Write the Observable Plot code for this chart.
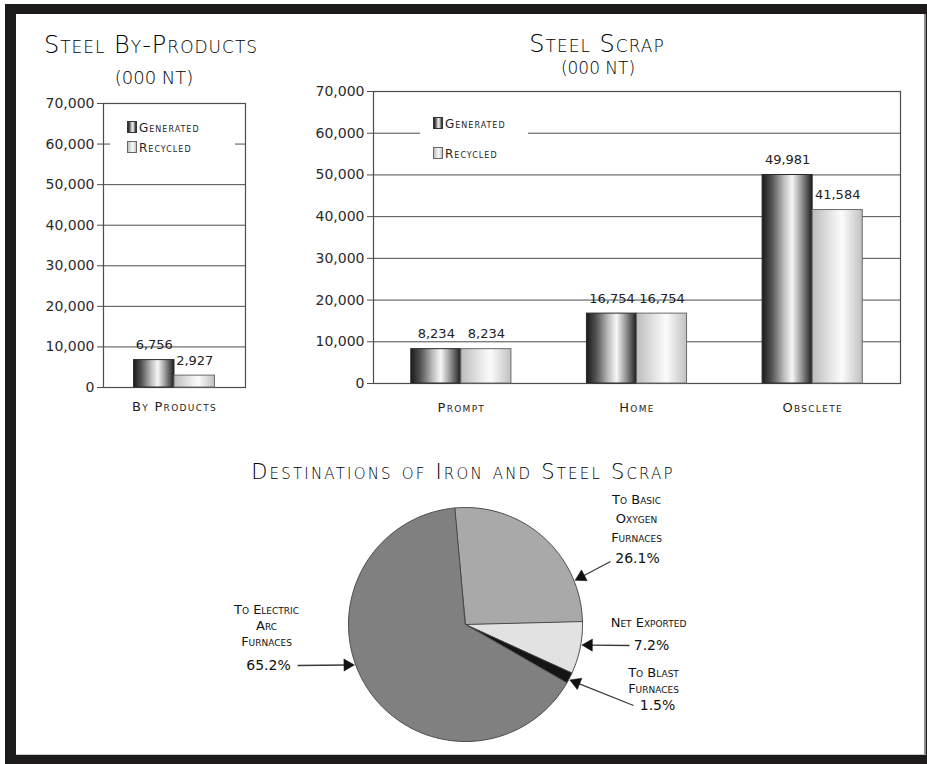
<!DOCTYPE html>
<html>
<head>
<meta charset="utf-8">
<script src="https://cdn.jsdelivr.net/npm/d3@7"></script>
<script src="https://cdn.jsdelivr.net/npm/@observablehq/plot@0.6"></script>
<style>
  html, body { margin: 0; padding: 0; background: #fff; }
  body { width: 927px; height: 764px; position: relative; overflow: hidden; font-family: "DejaVu Sans", sans-serif; color: #2b2b2b; }
  #frame { position: absolute; left: 5px; top: 4px; width: 922px; height: 760px; background: #1c1a1a; }
  #paper { position: absolute; left: 16px; top: 14px; width: 908px; height: 740px; background: #fff; border-right: 2px solid #8a8a8a; border-bottom: 1px solid #c9c9c9; }
  .abs { position: absolute; }
  .title { position: absolute; text-align: center; font-variant: small-caps; white-space: nowrap; color: #000; font-weight: 300; }
  .legend { position: absolute; background: #fff; }
  .legend .item { position: absolute; font-size: 12px; font-variant: small-caps; letter-spacing: 1px; white-space: nowrap; line-height: 12px; color: #1e1e1e; }
  .legend .sw { display: inline-block; width: 8px; height: 10px; border: 1px solid #333; vertical-align: -1px; margin-right: 2px; }
  .sw.gen { background: linear-gradient(90deg, #1e1e1e 0%, #5a5a5a 20%, #c4c4c4 45%, #f6f6f6 60%, #9a9a9a 78%, #1e1e1e 100%); }
  .sw.rec { background: linear-gradient(90deg, #bdbdbd 0%, #eeeeee 45%, #fbfbfb 60%, #c2c2c2 100%); border-color: #666; }
  g[aria-label="x-axis tick label"] text { letter-spacing: 1.3px; }
  g[aria-label="pie-name"] text { letter-spacing: 0.9px; }
</style>
</head>
<body>
<div id="frame"></div>
<div id="paper"></div>

<svg width="0" height="0" style="position:absolute">
  <defs>
    <linearGradient id="genGrad" x1="0" x2="1" y1="0" y2="0">
      <stop offset="0" stop-color="#1a1a1a"/>
      <stop offset="0.2" stop-color="#555"/>
      <stop offset="0.45" stop-color="#c2c2c2"/>
      <stop offset="0.6" stop-color="#f7f7f7"/>
      <stop offset="0.78" stop-color="#999"/>
      <stop offset="1" stop-color="#1e1e1e"/>
    </linearGradient>
    <linearGradient id="recGrad" x1="0" x2="1" y1="0" y2="0">
      <stop offset="0" stop-color="#bcbcbc"/>
      <stop offset="0.45" stop-color="#eeeeee"/>
      <stop offset="0.6" stop-color="#fbfbfb"/>
      <stop offset="1" stop-color="#c0c0c0"/>
    </linearGradient>
  </defs>
</svg>

<div id="byChart" class="abs" style="left:30px;top:88px;"></div>
<div id="scrapChart" class="abs" style="left:300px;top:78px;"></div>
<div id="pieChart" class="abs" style="left:16px;top:430px;"></div>

<div class="title" style="left:-49px;width:400px;top:31px;font-size:24px;line-height:28px;letter-spacing:1px;">Steel By-Products</div>
<div class="title" style="left:-46px;width:400px;top:67px;font-size:18px;line-height:22px;">(000 NT)</div>
<div class="title" style="left:397px;width:400px;top:30px;font-size:24px;line-height:28px;letter-spacing:1px;">Steel Scrap</div>
<div class="title" style="left:398px;width:400px;top:58px;font-size:17px;line-height:20px;">(000 NT)</div>
<div class="title" style="left:163px;width:600px;top:459px;font-size:21px;line-height:26px;letter-spacing:2.2px;">Destinations of Iron and Steel Scrap</div>

<div class="legend" style="left:110px;top:113px;width:125px;height:46px;">
  <div class="item" style="left:17px;top:8px;"><span class="sw gen"></span>Generated</div>
  <div class="item" style="left:17px;top:28px;"><span class="sw rec"></span>Recycled</div>
</div>
<div class="legend" style="left:420px;top:110px;width:108px;height:56px;">
  <div class="item" style="left:13px;top:7px;"><span class="sw gen"></span>Generated</div>
  <div class="item" style="left:13px;top:37px;"><span class="sw rec"></span>Recycled</div>
</div>

<script>
// ---------------- data ----------------
const seriesNames = ["Generated", "Recycled"];
const yTicks = [0, 10000, 20000, 30000, 40000, 50000, 60000, 70000];

const byCategories = ["By Products"];
const byGenerated = [6756];
const byRecycled = [2927];

const scrapCategories = ["Prompt", "Home", "Obsclete"];
const scrapGenerated = [8234, 16754, 49981];
const scrapRecycled = [8234, 16754, 41584];

const pieNames = ["To Basic Oxygen Furnaces", "Net Exported", "To Blast Furnaces", "To Electric Arc Furnaces"];
const pieLabelLines = [["To Basic", "Oxygen", "Furnaces"], ["Net Exported"], ["To Blast", "Furnaces"], ["To Electric", "Arc", "Furnaces"]];
const pieShares = [26.1, 7.2, 1.5, 65.2];
const pieColors = ["#a9a9a9", "#e2e2e2", "#151515", "#808080"];

// ---------------- bar charts ----------------
const fmt = d3.format(",");

function barChart(cfg) {
  const {categories, generated, recycled} = cfg;
  const rows = categories.flatMap((c, i) => [
    {category: c, i, series: seriesNames[0], value: generated[i]},
    {category: c, i, series: seriesNames[1], value: recycled[i]}
  ]);
  const w = 0.285; // bar width as a fraction of a category band
  const left = d => d.series === seriesNames[0] ? d.i + 0.5 - w : d.i + 0.5;
  const right = d => d.series === seriesNames[0] ? d.i + 0.5 : d.i + 0.5 + w;
  const gen = rows.filter(d => d.series === seriesNames[0]);
  const rec = rows.filter(d => d.series === seriesNames[1]);
  return Plot.plot({
    width: cfg.width, height: cfg.height,
    marginLeft: cfg.marginLeft, marginRight: cfg.marginRight,
    marginTop: cfg.marginTop, marginBottom: cfg.marginBottom,
    style: {fontFamily: "'DejaVu Sans', sans-serif", fontSize: "14px", color: "#2b2b2b", background: "transparent", overflow: "visible"},
    x: {domain: [0, categories.length], axis: null, label: null},
    y: {domain: [0, 70000], axis: null, label: null},
    marks: [
      Plot.ruleY(yTicks, {stroke: "#4d4d4d", strokeWidth: 1}),
      Plot.axisY({ticks: yTicks, tickFormat: fmt, tickSize: 6, tickPadding: 3, stroke: "#4d4d4d", fontSize: 14, label: null}),
      Plot.axisX({ticks: categories.map((c, i) => i + 0.5), tickFormat: v => categories[Math.floor(v)], tickSize: 0, tickPadding: cfg.catPad, fontSize: 13, fontVariant: "small-caps", fill: "#1e1e1e", label: null}),
      Plot.frame({stroke: "#4d4d4d", strokeWidth: 1.2}),
      Plot.rect(gen, {x1: left, x2: right, y1: 0, y2: "value", fill: "url(#genGrad)", stroke: "#2a2a2a", strokeWidth: 1}),
      Plot.rect(rec, {x1: left, x2: right, y1: 0, y2: "value", fill: "url(#recGrad)", stroke: "#6a6a6a", strokeWidth: 1}),
      Plot.text(rows, {x: d => (left(d) + right(d)) / 2, y: "value", text: d => fmt(d.value), dy: -11, lineAnchor: "bottom", fontSize: 13, fill: "#222"})
    ]
  });
}

document.getElementById("byChart").append(barChart({
  categories: byCategories, generated: byGenerated, recycled: byRecycled,
  width: 225, height: 334, marginLeft: 73, marginRight: 10, marginTop: 15, marginBottom: 35, catPad: 14
}));

document.getElementById("scrapChart").append(barChart({
  categories: scrapCategories, generated: scrapGenerated, recycled: scrapRecycled,
  width: 615, height: 342, marginLeft: 73, marginRight: 15, marginTop: 13, marginBottom: 37, catPad: 19
}));

// ---------------- pie chart ----------------
// layout (page pixels): pie centre and radius, svg box
const pieBox = {left: 16, top: 430, width: 908, height: 325};
const pieCx = 465, pieCy = 624, pieR = 117;
const pieStart = -5.4; // degrees clockwise from 12 o'clock
const U = px => (px - pieCx) / pieR;
const V = py => (pieCy - py) / pieR;

const slices = [];
{
  let a = pieStart;
  pieShares.forEach((s, k) => {
    const a0 = a, a1 = a + s * 3.6; a = a1;
    const n = Math.max(2, Math.ceil((a1 - a0) / 1));
    const pts = [{x: 0, y: 0}];
    for (let j = 0; j <= n; j++) {
      const t = (a0 + (a1 - a0) * j / n) * Math.PI / 180;
      pts.push({x: Math.sin(t), y: Math.cos(t)});
    }
    slices.push({name: pieNames[k], color: pieColors[k], a0, a1, pts});
  });
}

// annotation layout in page pixels (label lines, percent text, arrow tail and tip angle on the rim)
const annotLayout = [
  {cx: 636, top: 499, gap: 19, pct: [637, 558], tail: [610, 561], tipAngle: 68},
  {cx: 648, top: 622, gap: 15, pct: [651, 645], tail: [629, 645], tipAngle: 100},
  {cx: 653, top: 672, gap: 16, pct: [657, 705], tail: [633, 705], tipAngle: 118},
  {cx: 266, top: 609, gap: 16, pct: [268, 665], tail: [297, 665], tipAngle: 250}
];

const nameLines = [];
const annots = [];
pieShares.forEach((s, k) => {
  const L = annotLayout[k];
  pieLabelLines[k].forEach((line, j) => nameLines.push({text: line, x: U(L.cx), y: V(L.top + j * L.gap)}));
  const t = L.tipAngle * Math.PI / 180;
  const tip = [pieCx + pieR * 1.01 * Math.sin(t), pieCy - pieR * 1.01 * Math.cos(t)];
  const dx = tip[0] - L.tail[0], dy = tip[1] - L.tail[1];
  const len = Math.hypot(dx, dy);
  const rot = Math.atan2(dx, -dy) * 180 / Math.PI;
  const back = 7; // distance from triangle centroid to its tip (px)
  const head = [tip[0] - dx / len * back, tip[1] - dy / len * back];
  annots.push({
    pct: s.toFixed(1) + "%", px: U(L.pct[0]), py: V(L.pct[1]),
    x1: U(L.tail[0]), y1: V(L.tail[1]), x2: U(head[0]), y2: V(head[1]),
    hx: U(head[0]), hy: V(head[1]), rot
  });
});

const cxIn = pieCx - pieBox.left, cyIn = pieCy - pieBox.top;
const pie = Plot.plot({
  width: pieBox.width, height: pieBox.height,
  margin: 0,
  style: {fontFamily: "'DejaVu Sans', sans-serif", fontSize: "13px", color: "#1a1a1a", background: "transparent", overflow: "visible"},
  x: {domain: [-cxIn / pieR, (pieBox.width - cxIn) / pieR], range: [0, pieBox.width], axis: null},
  y: {domain: [-(pieBox.height - cyIn) / pieR, cyIn / pieR], range: [pieBox.height, 0], axis: null},
  marks: [
    ...slices.map(s => Plot.line(s.pts, {x: "x", y: "y", curve: "linear-closed", fill: s.color, stroke: "#4a4a4a", strokeWidth: 1})),
    Plot.link(annots, {x1: "x1", y1: "y1", x2: "x2", y2: "y2", stroke: "#3a3a3a", strokeWidth: 1.3}),
    Plot.dot(annots, {x: "hx", y: "hy", symbol: "triangle", r: 4.5, fill: "#111", stroke: "#111", strokeWidth: 0.5, rotate: "rot"}),
    Plot.text(nameLines, {x: "x", y: "y", text: "text", fontSize: 13, fontVariant: "small-caps", fill: "#111", ariaLabel: "pie-name"}),
    Plot.text(annots, {x: "px", y: "py", text: "pct", fontSize: 14, fill: "#111"})
  ]
});
document.getElementById("pieChart").append(pie);
</script>
</body>
</html>
